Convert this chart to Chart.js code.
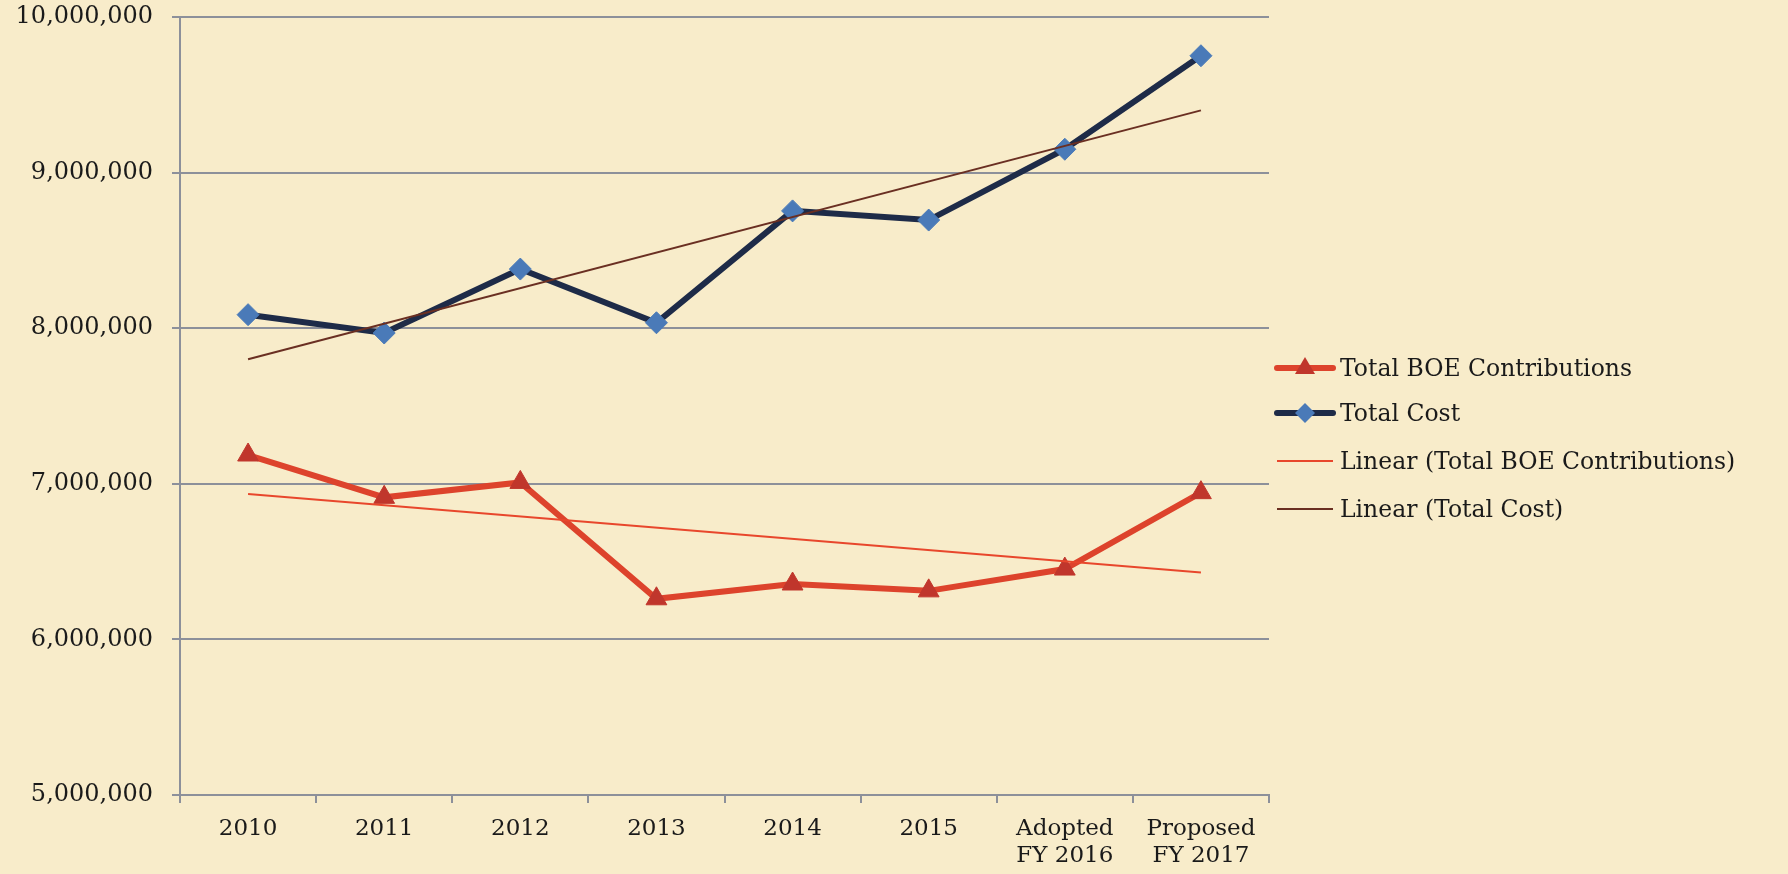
<!DOCTYPE html>
<html>
<head>
<meta charset="utf-8">
<script src="https://cdn.jsdelivr.net/npm/chart.js@4"></script>
<style>
  html,body{margin:0;padding:0;background:#f8ecca;}
  #wrap{position:relative;width:1788px;height:874px;}
  canvas{position:absolute;left:0;top:0;}
  .leg{position:absolute;left:1274px;font-family:"DejaVu Serif",serif;font-size:23.5px;color:#1a1a1a;display:flex;align-items:center;white-space:nowrap;}
  .leg svg{margin-right:4px;}
</style>
</head>
<body>
<div id="wrap">
  <canvas id="c" width="1788" height="874"></canvas>
  <div class="leg" style="top:353px"><svg width="62" height="30"><line x1="3" y1="15" x2="59" y2="15" stroke="#dd432c" stroke-width="6" stroke-linecap="round"/><polygon points="31,4 41,21 21,21" fill="#c0362c"/></svg><span>Total BOE Contributions</span></div>
  <div class="leg" style="top:398px"><svg width="62" height="30"><line x1="3" y1="15" x2="59" y2="15" stroke="#1e2b48" stroke-width="6" stroke-linecap="round"/><polygon points="31,5 41,15 31,25 21,15" fill="#4a7ab8"/></svg><span>Total Cost</span></div>
  <div class="leg" style="top:446px"><svg width="62" height="30"><line x1="3" y1="15" x2="59" y2="15" stroke="#e8472c" stroke-width="2"/></svg><span>Linear (Total BOE Contributions)</span></div>
  <div class="leg" style="top:494px"><svg width="62" height="30"><line x1="3" y1="15" x2="59" y2="15" stroke="#6a2f22" stroke-width="2"/></svg><span>Linear (Total Cost)</span></div>
</div>
<script>
const categories = ["2010","2011","2012","2013","2014","2015",["Adopted","FY 2016"],["Proposed","FY 2017"]];
const totalBOE = [7185000, 6913000, 7009000, 6261000, 6356000, 6312000, 6452000, 6943000];
const totalCost = [8087000, 7969000, 8380000, 8035000, 8754000, 8695000, 9150000, 9751000];
// trend lines (endpoints only)
const trendBOE = [6935000, null, null, null, null, null, null, 6430000];
const trendCost = [7800000, null, null, null, null, null, null, 9400000];
const yTicks = [5000000, 6000000, 7000000, 8000000, 9000000, 10000000];

const gridColor = '#8d909a';
const fontFam = '"DejaVu Serif", serif';

new Chart(document.getElementById('c'), {
  type: 'line',
  data: {
    labels: categories,
    datasets: [
      {label:'Linear (Total BOE Contributions)', data: trendBOE, borderColor:'#e8472c', borderWidth:2, pointRadius:0, spanGaps:true, order:0},
      {label:'Linear (Total Cost)', data: trendCost, borderColor:'#6a2f22', borderWidth:2, pointRadius:0, spanGaps:true, order:0},
      {label:'Total BOE Contributions', data: totalBOE, borderColor:'#dd432c', borderWidth:6, pointStyle:'triangle', pointRadius:12, pointBackgroundColor:'#c0362c', pointBorderColor:'#c0362c', pointBorderWidth:1, order:1},
      {label:'Total Cost', data: totalCost, borderColor:'#1e2b48', borderWidth:6, pointStyle:'rectRot', pointRadius:11, pointBackgroundColor:'#4a7ab8', pointBorderColor:'#4a7ab8', pointBorderWidth:1, order:1}
    ]
  },
  options: {
    responsive:false,
    animation:false,
    layout:{padding:{top:17,right:519,left:0,bottom:0}},
    plugins:{legend:{display:false}, tooltip:{enabled:false}},
    scales:{
      x:{
        offset:true,
        grid:{offset:true, drawOnChartArea:false, tickLength:8, color:gridColor, lineWidth:2},
        border:{color:gridColor, width:2},
        ticks:{font:{family:fontFam,size:23}, color:'#1a1a1a', padding:12, maxRotation:0, autoSkip:false},
        afterFit: s => { s.height = 79; }
      },
      y:{
        min:5000000, max:10000000,
        afterBuildTicks: s => { s.ticks = yTicks.map(v => ({value:v})); },
        grid:{tickLength:8, color:gridColor, lineWidth:2},
        border:{color:gridColor, width:2},
        ticks:{font:{family:fontFam,size:24}, color:'#1a1a1a', padding:19, callback: v => Number(v).toLocaleString('en-US')},
        afterFit: s => { s.width = 180; s.paddingTop = 0; s.paddingBottom = 0; }
      }
    }
  }
});
</script>
</body>
</html>
